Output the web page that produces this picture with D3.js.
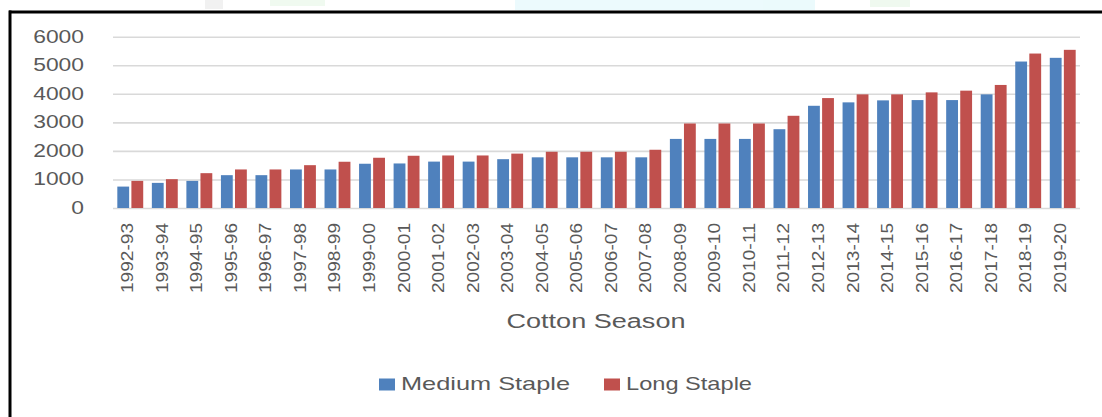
<!DOCTYPE html>
<html>
<head>
<meta charset="utf-8">
<script src="https://cdn.jsdelivr.net/npm/d3@7"></script>
<style>
  html, body { margin: 0; padding: 0; background: #ffffff; }
  svg { display: block; }
  text { font-family: "Liberation Sans", Arial, sans-serif; fill: #595959; }
</style>
</head>
<body>
<svg id="chart" width="1102" height="417"></svg>
<script>
// Cotton MSP by season (Rs per quintal)
const seasons = ["1992-93","1993-94","1994-95","1995-96","1996-97","1997-98","1998-99","1999-00",
  "2000-01","2001-02","2002-03","2003-04","2004-05","2005-06","2006-07","2007-08","2008-09",
  "2009-10","2010-11","2011-12","2012-13","2013-14","2014-15","2015-16","2016-17","2017-18",
  "2018-19","2019-20"];
const mediumStaple = [750, 880, 950, 1150, 1150, 1350, 1350, 1550, 1560, 1625, 1625, 1710, 1775, 1775,
  1775, 1775, 2420, 2420, 2420, 2760, 3580, 3700, 3770, 3780, 3780, 3980, 5130, 5260];
const longStaple = [950, 1010, 1220, 1350, 1350, 1500, 1620, 1760, 1830, 1840, 1840, 1905, 1970, 1970,
  1970, 2040, 2960, 2960, 2960, 3230, 3850, 3980, 3980, 4050, 4110, 4310, 5410, 5540];
const yTicks = [0, 1000, 2000, 3000, 4000, 5000, 6000];
const seriesNames = ["Medium Staple", "Long Staple"];
const seriesColors = ["#4F81BD", "#C0504D"];
const xTitle = "Cotton Season";

const svg = d3.select("#chart");
const plot = { left: 113, right: 1080, top: 36.7, bottom: 208 };

// faint header band above the frame
const header = svg.append("g").attr("opacity", 0.6);
header.append("rect").attr("x", 515).attr("y", 0).attr("width", 300).attr("height", 10).attr("fill", "#dff7fb");
header.append("rect").attr("x", 270).attr("y", 0).attr("width", 55).attr("height", 6).attr("fill", "#e6f6e6");
header.append("rect").attr("x", 205).attr("y", 0).attr("width", 18).attr("height", 9).attr("fill", "#e8e8e8");
header.append("rect").attr("x", 870).attr("y", 0).attr("width", 40).attr("height", 7).attr("fill", "#e6f6e6");

// frame
svg.append("line").attr("x1", 9).attr("x2", 1102).attr("y1", 12).attr("y2", 12)
  .attr("stroke", "#000").attr("stroke-width", 3);
svg.append("line").attr("x1", 10).attr("x2", 10).attr("y1", 10.5).attr("y2", 417)
  .attr("stroke", "#000").attr("stroke-width", 3);

const x = d3.scaleBand().domain(seasons).range([plot.left, plot.right])
  .paddingInner(0.25).paddingOuter(0.125);
const x1 = d3.scaleBand().domain(seriesNames).range([0, x.bandwidth()]).paddingInner(0.16);
const y = d3.scaleLinear().domain([0, 6000]).range([plot.bottom, plot.top]);

// gridlines
const grid = svg.append("g")
  .attr("transform", `translate(${plot.left},0)`)
  .call(d3.axisLeft(y).tickValues(yTicks).tickSize(-(plot.right - plot.left)).tickFormat(""));
grid.select(".domain").remove();
grid.selectAll(".tick line").attr("stroke", "#d9d9d9").attr("stroke-width", 1.6);

// y tick labels
svg.append("g").selectAll("text").data(yTicks).join("text")
  .attr("x", 84).attr("y", d => y(d))
  .attr("text-anchor", "end").attr("dominant-baseline", "central")
  .attr("font-size", 17.5)
  .attr("textLength", d => String(d).length * 12.7)
  .attr("lengthAdjust", "spacingAndGlyphs")
  .text(d => d);

// bars
const rows = seasons.map((s, i) => ({ season: s, values: [mediumStaple[i], longStaple[i]] }));
const groups = svg.append("g").selectAll("g").data(rows).join("g")
  .attr("transform", d => `translate(${x(d.season)},0)`);
groups.selectAll("rect").data(d => d.values.map((v, k) => ({ key: seriesNames[k], value: v, k })))
  .join("rect")
  .attr("x", d => x1(d.key))
  .attr("width", x1.bandwidth())
  .attr("y", d => y(d.value))
  .attr("height", d => y(0) - y(d.value))
  .attr("fill", d => seriesColors[d.k]);

// x tick labels (rotated)
svg.append("g").selectAll("text").data(seasons).join("text")
  .attr("transform", d => `translate(${x(d) + x.bandwidth() / 2 - 3},223) rotate(-90)`)
  .attr("text-anchor", "end").attr("dominant-baseline", "central")
  .attr("font-size", 16.5)
  .attr("textLength", 70)
  .attr("lengthAdjust", "spacingAndGlyphs")
  .text(d => d);

// axis title
svg.append("text")
  .attr("x", 596).attr("y", 328)
  .attr("text-anchor", "middle")
  .attr("font-size", 20)
  .attr("textLength", 179)
  .attr("lengthAdjust", "spacingAndGlyphs")
  .text(xTitle);

// legend
const legendItems = [
  { name: seriesNames[0], color: seriesColors[0], sx: 379, tx: 401, tw: 169 },
  { name: seriesNames[1], color: seriesColors[1], sx: 604, tx: 626, tw: 126 }
];
const legend = svg.append("g").selectAll("g").data(legendItems).join("g");
legend.append("rect")
  .attr("x", d => d.sx).attr("y", 378.5).attr("width", 16).attr("height", 12)
  .attr("fill", d => d.color);
legend.append("text")
  .attr("x", d => d.tx).attr("y", 390)
  .attr("font-size", 19)
  .attr("textLength", d => d.tw)
  .attr("lengthAdjust", "spacingAndGlyphs")
  .text(d => d.name);
</script>
</body>
</html>
